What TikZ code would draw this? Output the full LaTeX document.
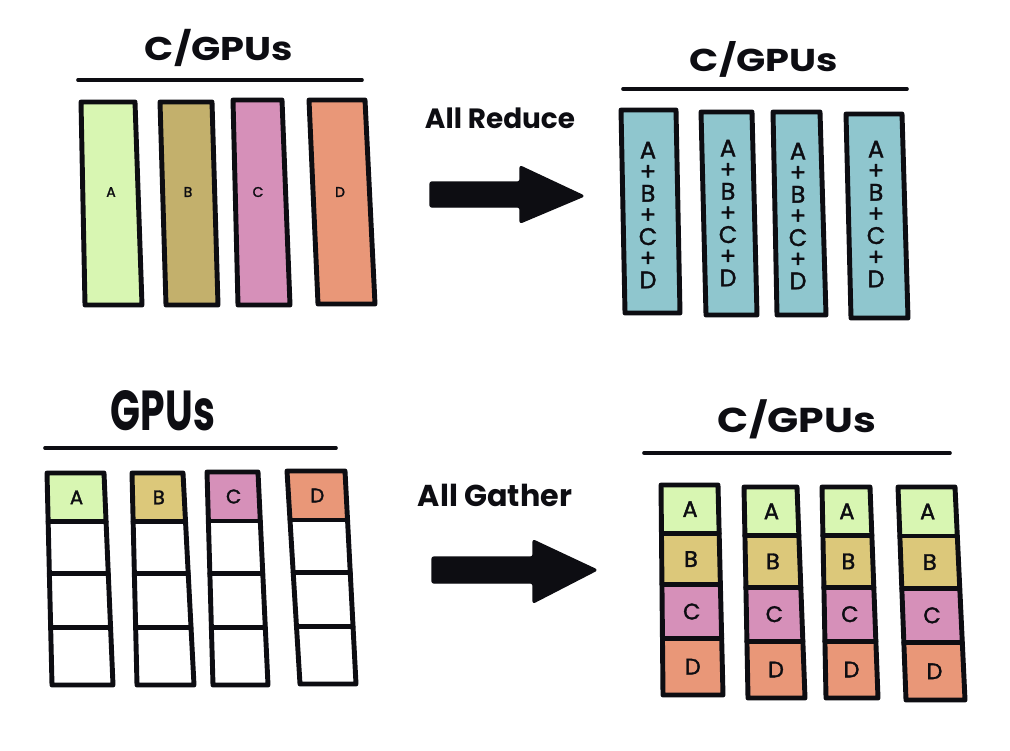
\documentclass[tikz,border=0pt]{standalone}
\usepackage{fontspec}
\setmainfont{Poppins}
\newfontfamily\medfont{Poppins}[FakeBold=1.6]
\usetikzlibrary{calc}
\definecolor{cA}{HTML}{D8F6B2}
\definecolor{cB}{HTML}{C3B06C}
\definecolor{cBy}{HTML}{DCC87A}
\definecolor{cC}{HTML}{D690B9}
\definecolor{cD}{HTML}{E99778}
\definecolor{cT}{HTML}{8FC6CE}
\definecolor{ink}{HTML}{0D0D12}
\tikzset{
  barline/.style={draw=ink, line width=3.5pt, line join=round, line cap=round},
  rule/.style={draw=ink, line width=2.6pt, line cap=round},
  blockarrow/.style={fill=ink, draw=ink, line width=1pt, line join=round, rounded corners=1.5pt},
  title/.style={text=ink, inner sep=0pt, font=\bfseries},
  oplabel/.style={text=ink, inner sep=0pt, font=\bfseries},
  smallletter/.style={text=ink, inner sep=0pt, font=\medfont\fontsize{10}{11}\selectfont},
  sumtext/.style={text=ink, inner sep=0pt, align=center, font=\medfont\fontsize{17}{15.4}\selectfont},
  cellA/.style={text=ink, inner sep=0pt, font=\medfont\fontsize{14}{14}\selectfont},
  cellB/.style={text=ink, inner sep=0pt, font=\medfont\fontsize{16}{16}\selectfont},
}
% bar: name, xlt, xrt, xlb, xrb, ytop, ybot
\newcommand\mkcorners[7]{%
  \coordinate (#1-tl) at (#2,#6); \coordinate (#1-tr) at (#3,#6);
  \coordinate (#1-bl) at (#4,#7); \coordinate (#1-br) at (#5,#7);
  \coordinate (#1) at ($(#1-tl)!0.5!(#1-br)$);}
\newcommand\barpath[1]{(#1-tl) -- (#1-tr) -- (#1-br) -- (#1-bl) -- cycle}
% cell: bar, f1, f2, fill
\newcommand\mkcell[4]{%
  \coordinate (#1-a) at ($(#1-tl)!#2!(#1-bl)$);
  \coordinate (#1-b) at ($(#1-tr)!#2!(#1-br)$);
  \coordinate (#1-c) at ($(#1-tr)!#3!(#1-br)$);
  \coordinate (#1-d) at ($(#1-tl)!#3!(#1-bl)$);
  \fill[#4] (#1-a) -- (#1-b) -- (#1-c) -- (#1-d) -- cycle;}
\newcommand\mkdiv[2]{\draw[barline] ($(#1-tl)!#2!(#1-bl)$) -- ($(#1-tr)!#2!(#1-br)$);}
\newcommand\celllabel[5]{% bar, f1, f2, style, text
  \coordinate (#1-m1) at ($(#1-tl)!#2!(#1-bl)$);
  \coordinate (#1-m2) at ($(#1-tr)!#3!(#1-br)$);
  \node[#4] (#1-#5) at ($(#1-m1)!0.5!(#1-m2)$) {#5};}
\begin{document}
\begin{tikzpicture}[x=0.025cm, y=-0.025cm]
\useasboundingbox (0,0) rectangle (1010,750);
\fill[white] (0,0) rectangle (1010,750);

% ---------- top-left: C/GPUs before All Reduce ----------
\node[title] (tlt) at (219,48) {\resizebox{3.7cm}{0.78cm}{C/GPUs}};
\coordinate (tlu1) at (78,80); \coordinate (tlu2) at (362,80);
\draw[rule] (tlu1) -- (tlu2);
\mkcorners{tla}{81}{135}{85}{142}{102}{305}
\mkcorners{tlb}{160}{212}{166}{218}{102}{305}
\mkcorners{tlc}{233}{282}{238}{290}{100}{305}
\mkcorners{tld}{309}{365}{318}{375}{100}{304}
\filldraw[barline, fill=cA] \barpath{tla};
\filldraw[barline, fill=cB] \barpath{tlb};
\filldraw[barline, fill=cC] \barpath{tlc};
\filldraw[barline, fill=cD] \barpath{tld};
\node[smallletter] (tlA) at (111,192) {A};
\node[smallletter] (tlB) at (188,192) {B};
\node[smallletter] (tlC) at (258,192) {C};
\node[smallletter] (tlD) at (340,192) {D};

% ---------- All Reduce arrow ----------
\node[oplabel] (ared) at (500,118) {\resizebox{3.75cm}{!}{All Reduce}};
\filldraw[blockarrow] (430,182) -- (520,182) -- (520,166) -- (584,196) -- (520,223) -- (520,207) -- (430,207) -- cycle;

% ---------- top-right: reduced ----------
\node[title] (trt) at (764,59) {\resizebox{3.7cm}{0.75cm}{C/GPUs}};
\coordinate (tru1) at (623,89); \coordinate (tru2) at (907,89);
\draw[rule] (tru1) -- (tru2);
\mkcorners{tr1}{621}{676}{625}{680}{110}{313}
\mkcorners{tr2}{701}{752}{706}{757}{112}{315}
\mkcorners{tr3}{773}{820}{777}{826}{112}{315}
\mkcorners{tr4}{846}{902}{851}{908}{114}{318}
\foreach \b in {tr1,tr2,tr3,tr4}{\filldraw[barline, fill=cT] \barpath{\b};}
\node[sumtext] (trs1) at (648,215) {A\\+\\B\\+\\C\\+\\D};
\node[sumtext] (trs2) at (728,213) {A\\+\\B\\+\\C\\+\\D};
\node[sumtext] (trs3) at (798,216) {A\\+\\B\\+\\C\\+\\D};
\node[sumtext] (trs4) at (876,214) {A\\+\\B\\+\\C\\+\\D};

% ---------- bottom-left: GPUs before All Gather ----------
\node[title] (blt) at (163,411) {\resizebox{2.6cm}{1.0cm}{GPUs}};
\coordinate (blu1) at (45,448); \coordinate (blu2) at (336,448);
\draw[rule] (blu1) -- (blu2);
\mkcorners{bl1}{47}{104}{52}{113}{473}{685}
\mkcorners{bl2}{132}{183}{137}{194}{473}{685}
\mkcorners{bl3}{207}{258}{213}{268}{472}{685}
\mkcorners{bl4}{287}{345}{300}{356}{471}{684}
\mkcell{bl1}{0}{0.23}{cA}
\mkcell{bl2}{0}{0.23}{cBy}
\mkcell{bl3}{0}{0.23}{cC}
\mkcell{bl4}{0}{0.23}{cD}
\celllabel{bl1}{0}{0.23}{cellA}{A}
\celllabel{bl2}{0}{0.23}{cellA}{B}
\celllabel{bl3}{0}{0.23}{cellA}{C}
\celllabel{bl4}{0}{0.23}{cellA}{D}
\foreach \b in {bl1,bl2,bl3,bl4}{
  \mkdiv{\b}{0.23}\mkdiv{\b}{0.475}\mkdiv{\b}{0.73}
  \draw[barline] \barpath{\b};}

% ---------- All Gather arrow ----------
\node[oplabel] (agat) at (495,495) {\resizebox{3.85cm}{!}{All Gather}};
\filldraw[blockarrow] (432,557) -- (533,557) -- (533,540) -- (597,570) -- (533,603) -- (533,583) -- (432,583) -- cycle;

% ---------- bottom-right: gathered ----------
\node[title] (brt) at (797,419) {\resizebox{3.95cm}{0.82cm}{C/GPUs}};
\coordinate (bru1) at (644,453); \coordinate (bru2) at (950,453);
\draw[rule] (bru1) -- (bru2);
\mkcorners{br1}{661}{718}{663}{723}{485}{695}
\mkcorners{br2}{744}{797}{748}{805}{487}{698}
\mkcorners{br3}{822}{870}{826}{878}{487}{698}
\mkcorners{br4}{898}{955}{906}{965}{487}{700}
\foreach \b in {br1,br2,br3,br4}{
  \mkcell{\b}{0}{0.23}{cA}
  \mkcell{\b}{0.23}{0.475}{cBy}
  \mkcell{\b}{0.475}{0.73}{cC}
  \mkcell{\b}{0.73}{1}{cD}
  \celllabel{\b}{0}{0.23}{cellB}{A}
  \celllabel{\b}{0.23}{0.475}{cellB}{B}
  \celllabel{\b}{0.475}{0.73}{cellB}{C}
  \celllabel{\b}{0.73}{1}{cellB}{D}
  \mkdiv{\b}{0.23}\mkdiv{\b}{0.475}\mkdiv{\b}{0.73}
  \draw[barline] \barpath{\b};}
\end{tikzpicture}
\end{document}
